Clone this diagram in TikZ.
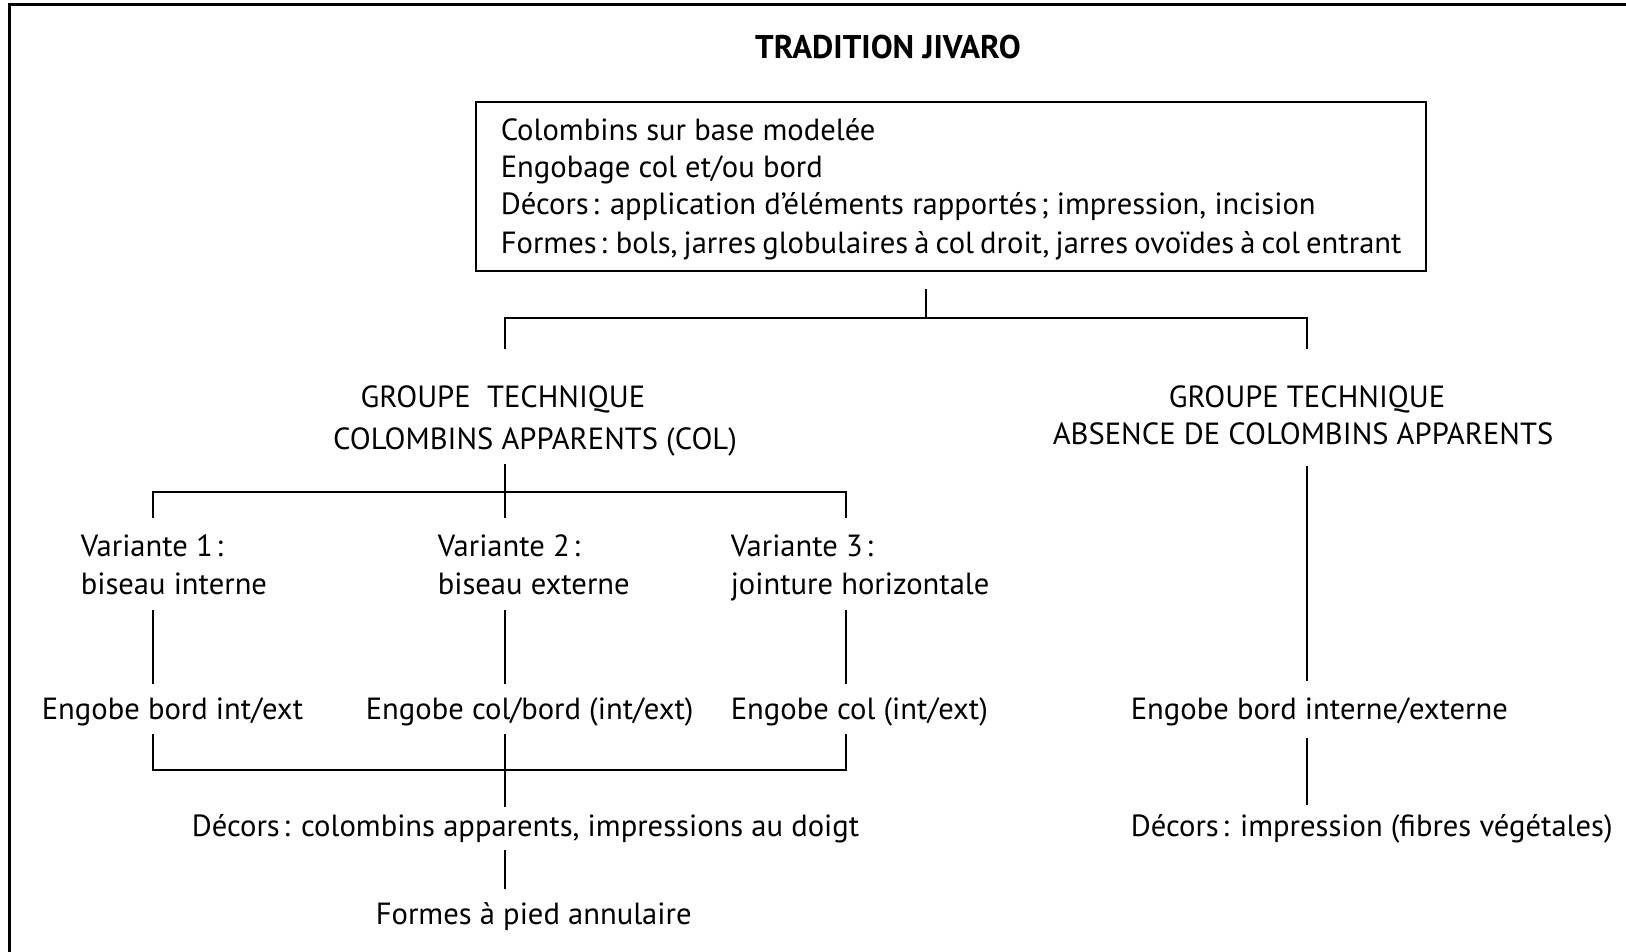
\documentclass[tikz,border=0pt]{standalone}
\usepackage{fontspec}
\setmainfont{PT Sans}
\newcommand{\cs}{\hspace{0.12em}:}
\begin{document}
\begin{tikzpicture}[x=0.5pt,y=-0.5pt, line width=0.8pt,
  txt/.style={inner sep=0pt, anchor=mid, font=\fontsize{15.3}{18}\selectfont, yshift=-2.5pt},
  txtl/.style={txt, anchor=mid west},
  frame/.style={line width=1.2pt},
  boxed/.style={draw, line width=1pt, inner sep=0pt, minimum width=475pt, minimum height=84.5pt},
  conn/.style={line width=0.8pt}]
\useasboundingbox (0,0) rectangle (1626,952);
\fill[white] (0,0) rectangle (1626,952);
\draw[frame] (9.5,952) -- (9.5,4.5) -- (1626,4.5);

\node[txt, font=\fontsize{16.4}{18}\selectfont\bfseries] (title) at (888,49) {TRADITION JIVARO};
\node[boxed] (top) at (951,186.5) {};
\node[txtl] (l1) at (500,131) {Colombins sur base modelée};
\node[txtl] (l2) at (500,168) {Engobage col et/ou bord};
\node[txtl] (l3) at (500,205) {Décors\cs{} application d’éléments rapportés\hspace{0.12em}; impression, incision};
\node[txtl] (l4) at (500,243) {\spaceskip=0.2em Formes\cs{} bols, jarres globulaires à col droit, jarres ovoïdes à col entrant};

\coordinate (a0) at (926,289);
\coordinate (a1) at (926,318);
\coordinate (aL) at (505,318);
\coordinate (aR) at (1307,318);
\coordinate (aLd) at (505,349);
\coordinate (aRd) at (1307,349);
\draw[conn] (a0) -- (a1);
\draw[conn] (aLd) -- (aL) -- (aR) -- (aRd);

\node[txt] (gl1) at (503,397) {GROUPE\ \ TECHNIQUE};
\node[txt] (gl2) at (535,439) {COLOMBINS APPARENTS (COL)};
\node[txt] (gr1) at (1307,397) {GROUPE TECHNIQUE};
\node[txt] (gr2) at (1303,434) {ABSENCE DE COLOMBINS APPARENTS};

\coordinate (b0) at (505,464);
\coordinate (b1) at (505,492);
\coordinate (bL) at (153,492);
\coordinate (bR) at (846,492);
\coordinate (bLd) at (153,518);
\coordinate (bMd) at (505,518);
\coordinate (bRd) at (846,518);
\draw[conn] (b0) -- (bMd);
\draw[conn] (bLd) -- (bL) -- (bR) -- (bRd);

\node[txtl] (v1a) at (80,546) {Variante 1\cs};
\node[txtl] (v1b) at (80,584) {biseau interne};
\node[txtl] (v2a) at (437,546) {Variante 2\cs};
\node[txtl] (v2b) at (437,584) {biseau externe};
\node[txtl] (v3a) at (730,546) {Variante 3\cs};
\node[txtl] (v3b) at (730,584) {jointure horizontale};

\draw[conn] (153,610) coordinate (c1t) -- (153,684) coordinate (c1b);
\draw[conn] (505,610) coordinate (c2t) -- (505,684) coordinate (c2b);
\draw[conn] (846,610) coordinate (c3t) -- (846,684) coordinate (c3b);

\node[txtl] (e1) at (41,709) {Engobe bord int/ext};
\node[txtl] (e2) at (365,709) {Engobe col/bord (int/ext)};
\node[txtl] (e3) at (730,709) {Engobe col (int/ext)};

\coordinate (dLt) at (153,734);
\coordinate (dL) at (153,770);
\coordinate (dR) at (846,770);
\coordinate (dRt) at (846,734);
\coordinate (dMt) at (505,734);
\coordinate (dMb) at (505,807);
\draw[conn] (dLt) -- (dL) -- (dR) -- (dRt);
\draw[conn] (dMt) -- (dMb);

\node[txtl] (d1) at (191,826) {Décors\cs{} colombins apparents, impressions au doigt};
\coordinate (fT) at (505,850);
\coordinate (fB) at (505,889);
\draw[conn] (fT) -- (fB);
\node[txtl] (f1) at (375,914) {Formes à pied annulaire};

\coordinate (rT) at (1307,466);
\coordinate (rB) at (1307,681);
\draw[conn] (rT) -- (rB);
\node[txtl] (e4) at (1130,709) {Engobe bord interne/externe};
\coordinate (sT) at (1307,738);
\coordinate (sB) at (1307,805);
\draw[conn] (sT) -- (sB);
\node[txtl] (d2) at (1130,826) {Décors\cs{} impression (fibres végétales)};
\end{tikzpicture}
\end{document}
